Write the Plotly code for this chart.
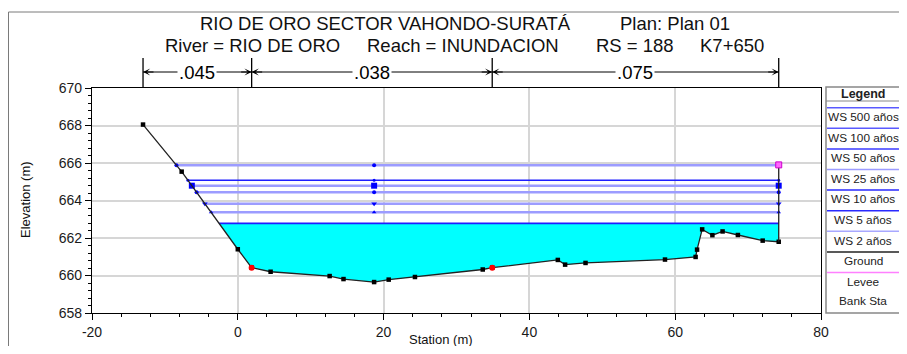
import numpy as np
import plotly.graph_objects as go

# ---------------- data ----------------
title_line1 = "RIO DE ORO SECTOR VAHONDO-SURATÁ"
plan_text = "Plan: Plan 01"
river_text = "River = RIO DE ORO"
reach_text = "Reach = INUNDACION"
rs_text = "RS = 188"
km_text = "K7+650"

ground_x = [-13.0, -7.7, 0.0, 1.9, 4.5, 12.6, 14.5, 18.7, 20.7, 24.3, 33.6, 34.9,
            43.9, 44.9, 47.7, 58.6, 62.8, 63.0, 63.7, 65.1, 66.5, 68.6, 72.0, 74.2]
ground_y = [668.05, 665.54, 661.40, 660.42, 660.20, 659.97, 659.81, 659.65, 659.78, 659.92,
            660.32, 660.42, 660.83, 660.58, 660.67, 660.85, 660.99, 661.38, 662.46, 662.15,
            662.35, 662.16, 661.86, 661.80]

bank_x = [1.9, 34.9]
levee_x = [74.2]
levee_y = [665.9]

ws_names = ["WS 500 años", "WS 100 años", "WS 50 años", "WS 25 años",
            "WS 10 años", "WS 5 años", "WS 2 años"]
ws_elev = [665.88, 665.08, 664.79, 664.44, 663.83, 663.37, 662.78]
ws_mid_station = 18.7

n_values = [".045", ".038", ".075"]
n_breaks = [-13.0, 1.9, 34.9, 74.2]

x_tickvals = [-20, 0, 20, 40, 60, 80]
x_ticktext = ["-20", "0", "20", "40", "60", "80"]
y_tickvals = [658, 660, 662, 664, 666, 668, 670]
y_ticktext = ["658", "660", "662", "664", "666", "668", "670"]

# ---------------- geometry ----------------
# page has an 8px body margin, so figure pixel = page pixel - 8
W, H = 891, 338
L, T = 84, 80
PW, PH = 729, 225
R, B = W - L - PW, H - T - PH
X0, X1, Y0, Y1 = -20, 80, 658, 670
FONT = "Liberation Sans, Arial, sans-serif"
REF_X0, REF_Y1 = 92, 313  # page pixel of plot left / bottom


def pxp(px):
    return (px - REF_X0) / PW


def pyp(py):
    return (REF_Y1 - py) / PH


def px2x(px):
    return X0 + (px - REF_X0) / PW * (X1 - X0)


def py2y(py):
    return Y0 + (REF_Y1 - py) / PH * (Y1 - Y0)


gx = np.array(ground_x)
gy = np.array(ground_y)
left_x = gx[:3][::-1]
left_y = gy[:3][::-1]


def left_intersect(z):
    return float(np.interp(z, left_y, left_x))


x_end = ground_x[-1]

light = "#9c9cff"
dark = "#1e1eff"
ws_style = [
    dict(color=light, width=2.5, sym="circle", size=4),
    dict(color=dark, width=1.4, sym="circle", size=3),
    dict(color=light, width=2.5, sym="square", size=6),
    dict(color=light, width=2.5, sym="circle", size=4),
    dict(color=light, width=2.5, sym="triangle-down", size=5),
    dict(color=light, width=2.5, sym="triangle-up", size=4),
    dict(color=dark, width=1.6, sym=None, size=0),
]

fig = go.Figure()

# cyan fill for WS 2
z2 = ws_elev[-1]
xl2 = left_intersect(z2)
fx = [xl2]
fy = [z2]
for a, b in zip(ground_x, ground_y):
    if a > xl2:
        fx.append(a)
        fy.append(min(b, z2))
fx += [x_end, xl2]
fy += [z2, z2]
fig.add_trace(go.Scatter(x=fx, y=fy, mode="lines", fill="toself", fillcolor="#00ffff",
                         line=dict(width=0), hoverinfo="skip", showlegend=False))

# water surface lines
for name, z, st in zip(ws_names, ws_elev, ws_style):
    xl = left_intersect(z)
    fig.add_trace(go.Scatter(x=[xl, x_end], y=[z, z], mode="lines",
                             line=dict(color=st["color"], width=st["width"]),
                             name=name, showlegend=False))
    if st["sym"]:
        fig.add_trace(go.Scatter(x=[xl, ws_mid_station, x_end], y=[z, z, z], mode="markers",
                                 marker=dict(color="#0000ff", symbol=st["sym"], size=st["size"]),
                                 showlegend=False))

# ground
fig.add_trace(go.Scatter(x=ground_x, y=ground_y, mode="lines+markers",
                         line=dict(color="#222222", width=1.3),
                         marker=dict(color="black", symbol="square", size=4.5),
                         name="Ground", showlegend=False))
# end wall up to levee
fig.add_trace(go.Scatter(x=[x_end, levee_x[0]], y=[ground_y[-1], levee_y[0]], mode="lines",
                         line=dict(color="#222222", width=1.3), showlegend=False))
# levee
fig.add_trace(go.Scatter(x=levee_x, y=levee_y, mode="markers",
                         marker=dict(color="#ff66ff", symbol="square", size=6,
                                     line=dict(color="#cc00cc", width=1)),
                         name="Levee", showlegend=False))
# bank stations
bank_y = list(np.interp(bank_x, gx, gy))
fig.add_trace(go.Scatter(x=bank_x, y=bank_y, mode="markers",
                         marker=dict(color="#ff0000", size=6),
                         name="Bank Sta", showlegend=False))

shapes = []
annotations = []

# outer frame
shapes.append(dict(type="rect", xref="paper", yref="paper",
                   x0=pxp(8.5), x1=pxp(940), y0=pyp(400), y1=pyp(12),
                   line=dict(color="#7a7a7a", width=1)))

# Manning n brackets
yb_top, yb_bot, y_arrow = pyp(58), pyp(88), pyp(72)
for bx in n_breaks:
    shapes.append(dict(type="line", xref="x", yref="paper", x0=bx, x1=bx,
                       y0=yb_bot, y1=yb_top, line=dict(color="black", width=1.3)))
for i, nv in enumerate(n_values):
    a, b = n_breaks[i], n_breaks[i + 1]
    shapes.append(dict(type="line", xref="x", yref="paper", x0=a, x1=b,
                       y0=y_arrow, y1=y_arrow, line=dict(color="black", width=1)))
    annotations.append(dict(x=(a + b) / 2, y=y_arrow, xref="x", yref="paper",
                            text=nv, showarrow=False, bgcolor="white",
                            font=dict(family=FONT, size=18.5, color="black"),
                            xanchor="center", yanchor="middle", borderpad=1))
    annotations.append(dict(x=a, y=y_arrow, xref="x", yref="paper", text="",
                            showarrow=True, ax=12, ay=0, axref="pixel", ayref="pixel",
                            arrowhead=3, arrowsize=1.2, arrowwidth=1, arrowcolor="black"))
    annotations.append(dict(x=b, y=y_arrow, xref="x", yref="paper", text="",
                            showarrow=True, ax=-12, ay=0, axref="pixel", ayref="pixel",
                            arrowhead=3, arrowsize=1.2, arrowwidth=1, arrowcolor="black"))

# title texts
tfont = dict(family=FONT, size=18.5, color="#111111")
for txt, px, py in [(title_line1, 198, 24), (plan_text, 618, 24),
                    (river_text, 163, 45), (reach_text, 365, 45),
                    (rs_text, 594, 45), (km_text, 698, 45)]:
    annotations.append(dict(x=pxp(px), y=pyp(py), xref="paper", yref="paper", text=txt,
                            showarrow=False, xanchor="left", yanchor="middle", font=tfont))

# axis titles
annotations.append(dict(x=pxp(25), y=pyp(200), xref="paper", yref="paper",
                        text="Elevation (m)", textangle=-90, showarrow=False,
                        font=dict(family=FONT, size=13, color="#111111"),
                        xanchor="center", yanchor="middle"))
annotations.append(dict(x=pxp(441), y=pyp(339), xref="paper", yref="paper",
                        text="Station (m)", showarrow=False,
                        font=dict(family=FONT, size=13, color="#111111"),
                        xanchor="center", yanchor="middle"))

# legend box
lg_left, lg_right, lg_top, lg_bot = 826, 940, 87, 313
lg_cx = 863
shapes.append(dict(type="rect", xref="paper", yref="paper",
                   x0=pxp(lg_left), x1=pxp(lg_right), y0=pyp(lg_bot), y1=pyp(lg_top),
                   line=dict(color="#888888", width=1.5), fillcolor="white", layer="below"))
shapes.append(dict(type="line", xref="paper", yref="paper",
                   x0=pxp(lg_left), x1=pxp(lg_right), y0=pyp(101), y1=pyp(101),
                   line=dict(color="#888888", width=1)))
annotations.append(dict(x=pxp(lg_cx), y=pyp(93.5), xref="paper", yref="paper",
                        text="<b>Legend</b>", showarrow=False,
                        font=dict(family=FONT, size=12.5, color="#222222"),
                        xanchor="center", yanchor="middle"))

leg_names = ws_names + ["Ground", "Levee", "Bank Sta"]
leg_line_colors = ["#5a5aff", "#5a5aff", "#3a3aff", "#9c9cff", "#2a2aff", "#2a2aff", "#a8a8ff",
                   "#222222", "#ff80ff", None]
leg_marker = [("square", 4, "#0000ff"), ("circle", 3, "#0000ff"), ("square", 6, "#0000ff"),
              ("circle", 3, "#4040ff"), ("circle", 3, "#0000ff"), ("circle", 3, "#0000ff"),
              None, ("square", 4.5, "black"), ("square-open", 6, "#ff40ff"),
              ("circle", 5, "#ff0000")]
mk_x, mk_y, mk_sym, mk_size, mk_col = [], [], [], [], []
for i, nm in enumerate(leg_names):
    yl = 107.7 + i * 20.6
    yt = yl + 9.2
    if i == 9:
        yl = 292
        yt = 300.5
    if leg_line_colors[i]:
        shapes.append(dict(type="line", xref="paper", yref="paper",
                           x0=pxp(lg_left + 1), x1=pxp(lg_right), y0=pyp(yl), y1=pyp(yl),
                           line=dict(color=leg_line_colors[i], width=1.5)))
    if leg_marker[i]:
        s, sz, c = leg_marker[i]
        mk_x.append(px2x(lg_cx))
        mk_y.append(py2y(yl))
        mk_sym.append(s)
        mk_size.append(sz)
        mk_col.append(c)
    annotations.append(dict(x=pxp(lg_cx), y=pyp(yt), xref="paper", yref="paper",
                            text=nm, showarrow=False,
                            font=dict(family=FONT, size=11.8, color="#222222"),
                            xanchor="center", yanchor="middle"))

fig.add_trace(go.Scatter(x=mk_x, y=mk_y, mode="markers", cliponaxis=False,
                         marker=dict(symbol=mk_sym, size=mk_size, color=mk_col),
                         hoverinfo="skip", showlegend=False))

fig.update_layout(
    width=W, height=H,
    margin=dict(l=L, r=R, t=T, b=B, pad=0, autoexpand=False),
    paper_bgcolor="white", plot_bgcolor="white",
    showlegend=False,
    shapes=shapes, annotations=annotations,
    font=dict(family=FONT, size=13, color="#1a1a1a"),
    xaxis=dict(range=[X0, X1], tickvals=x_tickvals, ticktext=x_ticktext, automargin=False,
               showgrid=True, gridcolor="#d6d6d6", gridwidth=1.5, zeroline=False,
               showline=True, linecolor="black", linewidth=1.2, mirror=True,
               ticks="outside", ticklen=6, tickcolor="black",
               minor=dict(dtick=4, ticks="outside", ticklen=3, tickcolor="black", showgrid=False),
               tickfont=dict(family=FONT, size=14, color="#1a1a1a")),
    yaxis=dict(range=[Y0, Y1], tickvals=y_tickvals, ticktext=y_ticktext, automargin=False,
               showgrid=True, gridcolor="#d6d6d6", gridwidth=1.5, zeroline=False,
               showline=True, linecolor="black", linewidth=1.2, mirror=True,
               ticks="outside", ticklen=6, tickcolor="black",
               minor=dict(dtick=0.4, ticks="outside", ticklen=3, tickcolor="black", showgrid=False),
               tickfont=dict(family=FONT, size=14, color="#1a1a1a")),
)

fig.write_html("out.html")
